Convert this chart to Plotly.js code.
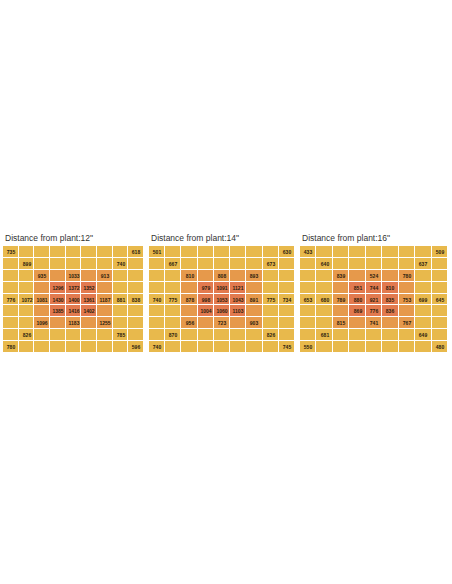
<!DOCTYPE html>
<html>
<head>
<meta charset="utf-8">
<script src="https://cdn.plot.ly/plotly-3.0.1.min.js"></script>
<style>html,body{margin:0;padding:0;background:#fff;}#chart{width:452px;height:584px;}</style>
</head>
<body>
<div id="chart"></div>
<script>
// Panel titles
var panelTitles = ['Distance from plant:12"', 'Distance from plant:14"', 'Distance from plant:16"'];

// Measured values (9x9 grid, null = no reading)
var values12 = [
  [735, null, null, null, null, null, null, null, 618],
  [null, 899, null, null, null, null, null, 740, null],
  [null, null, 935, null, 1033, null, 913, null, null],
  [null, null, null, 1296, 1372, 1352, null, null, null],
  [776, 1072, 1081, 1430, 1400, 1361, 1187, 881, 838],
  [null, null, null, 1385, 1416, 1402, null, null, null],
  [null, null, 1096, null, 1183, null, 1255, null, null],
  [null, 826, null, null, null, null, null, 785, null],
  [780, null, null, null, null, null, null, null, 596]
];
var values14 = [
  [501, null, null, null, null, null, null, null, 630],
  [null, 667, null, null, null, null, null, 673, null],
  [null, null, 810, null, 808, null, 893, null, null],
  [null, null, null, 979, 1091, 1121, null, null, null],
  [740, 775, 878, 998, 1053, 1043, 891, 775, 734],
  [null, null, null, 1004, 1060, 1103, null, null, null],
  [null, null, 956, null, 723, null, 903, null, null],
  [null, 870, null, null, null, null, null, 826, null],
  [740, null, null, null, null, null, null, null, 745]
];
var values16 = [
  [433, null, null, null, null, null, null, null, 509],
  [null, 640, null, null, null, null, null, 637, null],
  [null, null, 839, null, 524, null, 780, null, null],
  [null, null, null, 851, 744, 810, null, null, null],
  [653, 680, 789, 880, 921, 835, 753, 699, 645],
  [null, null, null, 869, 776, 836, null, null, null],
  [null, null, 815, null, 741, null, 767, null, null],
  [null, 681, null, null, null, null, null, 649, null],
  [550, null, null, null, null, null, null, null, 480]
];

// Colour zones of the grid (0 = outer, 1 = middle ring, 2 = centre)
var zones = [
  [0,0,0,0,0,0,0,0,0],
  [0,0,0,0,0,0,0,0,0],
  [0,0,1,1,1,1,1,0,0],
  [0,0,1,2,2,2,1,0,0],
  [0,0,1,2,2,2,1,0,0],
  [0,0,1,2,2,2,1,0,0],
  [0,0,1,1,1,1,1,0,0],
  [0,0,0,0,0,0,0,0,0],
  [0,0,0,0,0,0,0,0,0]
];

var W = 452, H = 584;
var panels = [values12, values14, values16];
var xPix = [[3, 144], [149, 295], [300, 448]];
var yPix = [246, 353];
var titleY = 238;

var traces = [];
var layout = {
  width: W, height: H,
  margin: {l: 0, r: 0, t: 0, b: 0},
  paper_bgcolor: '#ffffff',
  plot_bgcolor: '#ffffff',
  showlegend: false,
  annotations: []
};

panels.forEach(function (vals, i) {
  var sfx = i === 0 ? '' : String(i + 1);
  var text = vals.map(function (row) {
    return row.map(function (v) { return v === null ? '' : String(v); });
  });
  traces.push({
    type: 'heatmap',
    z: zones,
    text: text,
    texttemplate: '%{text}',
    textfont: {family: 'Liberation Sans, Arial, sans-serif', size: 5, color: '#2b1d0e', weight: 'bold'},
    colorscale: [[0, '#E8B94C'], [0.5, '#E6994B'], [1, '#E27A4F']],
    zmin: 0, zmax: 2,
    showscale: false,
    xgap: 1, ygap: 1,
    hoverinfo: 'skip',
    xaxis: 'x' + sfx, yaxis: 'y' + sfx
  });
  var ax = {
    domain: [xPix[i][0] / W, xPix[i][1] / W],
    showgrid: false, zeroline: false, showticklabels: false, ticks: '',
    showline: false, fixedrange: true
  };
  var ay = {
    domain: [1 - yPix[1] / H, 1 - yPix[0] / H],
    autorange: 'reversed',
    showgrid: false, zeroline: false, showticklabels: false, ticks: '',
    showline: false, fixedrange: true,
    anchor: 'x' + sfx
  };
  ax.anchor = 'y' + sfx;
  layout['xaxis' + sfx] = ax;
  layout['yaxis' + sfx] = ay;
  layout.annotations.push({
    text: panelTitles[i],
    xref: 'paper', yref: 'paper',
    x: xPix[i][0] / W, y: 1 - titleY / H,
    xanchor: 'left', yanchor: 'middle',
    showarrow: false,
    font: {family: 'Liberation Sans, Arial, sans-serif', size: 8.5, color: '#333333'}
  });
});

Plotly.newPlot('chart', traces, layout, {displayModeBar: false, staticPlot: true});
</script>
</body>
</html>
